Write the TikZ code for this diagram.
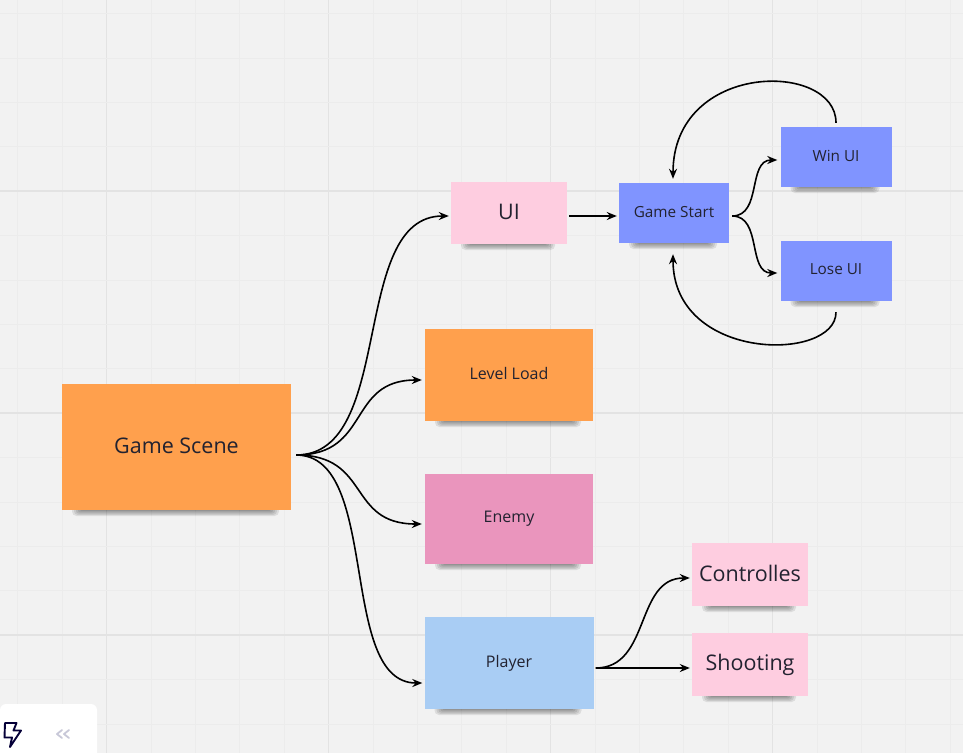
\documentclass[tikz,border=0pt]{standalone}
\usepackage{fontspec}
\setmainfont{Open Sans}
\usetikzlibrary{arrows.meta,calc}
\definecolor{bgc}{HTML}{F2F2F2}
\definecolor{gridminor}{HTML}{ECECEC}
\definecolor{gridmajor}{HTML}{E3E3E3}
\definecolor{orangenote}{HTML}{FFA04D}
\definecolor{pinknote}{HTML}{FECDE0}
\definecolor{enemynote}{HTML}{EA95BD}
\definecolor{playernote}{HTML}{A9CDF4}
\definecolor{bluenote}{HTML}{8094FF}
\definecolor{txt}{HTML}{222230}
\definecolor{navy}{HTML}{050038}
\definecolor{chev}{HTML}{C8C8D8}
\tikzset{
  note/.style={rectangle, inner sep=0pt, text=txt},
  shadowlayer/.style={fill=black, fill opacity=0.09},
  bigtxt/.style={font=\fontsize{21.5}{25}\selectfont},
  midtxt/.style={font=\fontsize{16}{19}\selectfont},
  smalltxt/.style={font=\fontsize{15.3}{18}\selectfont},
  conn/.style={line width=1.6pt, -{Stealth[length=10pt,width=8pt]}},
}
% #1 name, #2 x, #3 y, #4 width, #5 height, #6 fill, #7 text style, #8 text
\newcommand{\stickynote}[8]{%
  \foreach \e in {0,1,...,5} {
    \fill[shadowlayer, rounded corners={\e*0.8pt+0.5pt}]
      ({#2-#4/2+20-2*\e},{#3+#5/2-4}) rectangle ({#2+#4/2-22+2*\e},{#3+#5/2+1.2*\e});
  }
  \node[note, fill=#6, minimum width=#4pt, minimum height=#5pt, #7] (#1) at (#2,#3) {\raisebox{3pt}{#8}};}
\begin{document}
\begin{tikzpicture}[x=1pt,y=-1pt]
\useasboundingbox (0,0) rectangle (963,753);
\fill[bgc] (0,0) rectangle (963,753);
% grid
\foreach \k in {0,...,21} {
  \pgfmathsetmacro{\xx}{17.7+44.4*\k}
  \pgfmathtruncatemacro{\mm}{mod(\k,5)}
  \ifnum\mm=2
    \draw[gridmajor, line width=1.3pt] (\xx,0) -- (\xx,753);
  \else
    \draw[gridminor, line width=0.8pt] (\xx,0) -- (\xx,753);
  \fi
}
\foreach \k in {0,...,16} {
  \pgfmathsetmacro{\yy}{13.5+44.4*\k}
  \pgfmathtruncatemacro{\mm}{mod(\k,5)}
  \ifnum\mm=4
    \draw[gridmajor, line width=1.3pt] (0,\yy) -- (963,\yy);
  \else
    \draw[gridminor, line width=0.8pt] (0,\yy) -- (963,\yy);
  \fi
}

% notes
\stickynote{gs}{176.5}{447}{229}{126}{orangenote}{bigtxt}{Game Scene}
\stickynote{ui}{509}{213}{116}{62}{pinknote}{bigtxt}{UI}
\stickynote{ll}{509}{375}{168}{92}{orangenote}{midtxt}{Level Load}
\stickynote{en}{509}{519}{168}{90}{enemynote}{midtxt}{Enemy}
\stickynote{pl}{509}{663}{169}{92}{playernote}{midtxt}{Player}
\stickynote{gst}{674}{213}{110}{60}{bluenote}{smalltxt}{Game Start}
\stickynote{win}{836}{157}{111}{60}{bluenote}{smalltxt}{Win UI}
\stickynote{lose}{836}{271}{111}{60}{bluenote}{smalltxt}{Lose UI}
\stickynote{ctl}{750}{574.5}{116}{63}{pinknote}{bigtxt}{Controlles}
\stickynote{sht}{750}{664.5}{116}{63}{pinknote}{bigtxt}{Shooting}

% connector end points
\coordinate (gso) at ($(gs.east)+(5,8)$);
\coordinate (uii) at ($(ui.west)+(-2,3)$);
\coordinate (lli) at ($(ll.west)+(-3,5)$);
\coordinate (eni) at ($(en.west)+(-3,5)$);
\coordinate (pli) at ($(pl.west)+(-2,20)$);
\coordinate (uio) at ($(ui.east)+(2,3)$);
\coordinate (gsti) at ($(gst.west)+(-2,3)$);
\coordinate (gsto) at ($(gst.east)+(3,3)$);
\coordinate (wini) at ($(win.west)+(-3,3)$);
\coordinate (losei) at ($(lose.west)+(-3,2)$);
\coordinate (wino) at ($(win.north)+(0,-4)$);
\coordinate (loseo) at ($(lose.south)+(0,11)$);
\coordinate (gstt) at ($(gst.north)+(-1,-4)$);
\coordinate (gstb) at ($(gst.south)+(-1,11)$);
\coordinate (plo) at ($(pl.east)+(2,5)$);
\coordinate (ctli) at ($(ctl.west)+(-2,3.5)$);
\coordinate (shti) at ($(sht.west)+(-2,3.5)$);

% connectors
\draw[conn] (gso) .. controls ($(gso)+(100,0)$) and ($(uii)+(-100,0)$) .. (uii);
\draw[conn] (gso) .. controls ($(gso)+(75,0)$) and ($(lli)+(-75,0)$) .. (lli);
\draw[conn] (gso) .. controls ($(gso)+(75,0)$) and ($(eni)+(-75,0)$) .. (eni);
\draw[conn] (gso) .. controls ($(gso)+(85,0)$) and ($(pli)+(-85,0)$) .. (pli);
\draw[conn] (uio) -- (gsti);
\draw[conn] (gsto) .. controls ($(gsto)+(30,0)$) and ($(wini)+(-30,0)$) .. (wini);
\draw[conn] (gsto) .. controls ($(gsto)+(30,0)$) and ($(losei)+(-30,0)$) .. (losei);
\draw[conn] (wino) .. controls ($(wino)+(0,-62)$) and ($(gstt)+(0,-118)$) .. (gstt);
\draw[conn] (loseo) .. controls ($(loseo)+(0,50)$) and ($(gstb)+(0,108)$) .. (gstb);
\draw[conn] (plo) .. controls ($(plo)+(55,0)$) and ($(ctli)+(-55,0)$) .. (ctli);
\draw[conn] (plo) -- (shti);

% bottom-left widget
\fill[white, rounded corners=6pt] (0,704) rectangle (97,770);
\draw[navy, line width=1.9pt, line join=round] (5,723) -- (16.5,723) -- (13.5,730.5) -- (21,730.5) -- (10,747) -- (12,737.5) -- (4.5,737.5) -- cycle;
\draw[chev, line width=1.8pt, line cap=round, line join=round] (62,730) -- (57,734) -- (62,738);
\draw[chev, line width=1.8pt, line cap=round, line join=round] (69,730) -- (64,734) -- (69,738);
\end{tikzpicture}
\end{document}
